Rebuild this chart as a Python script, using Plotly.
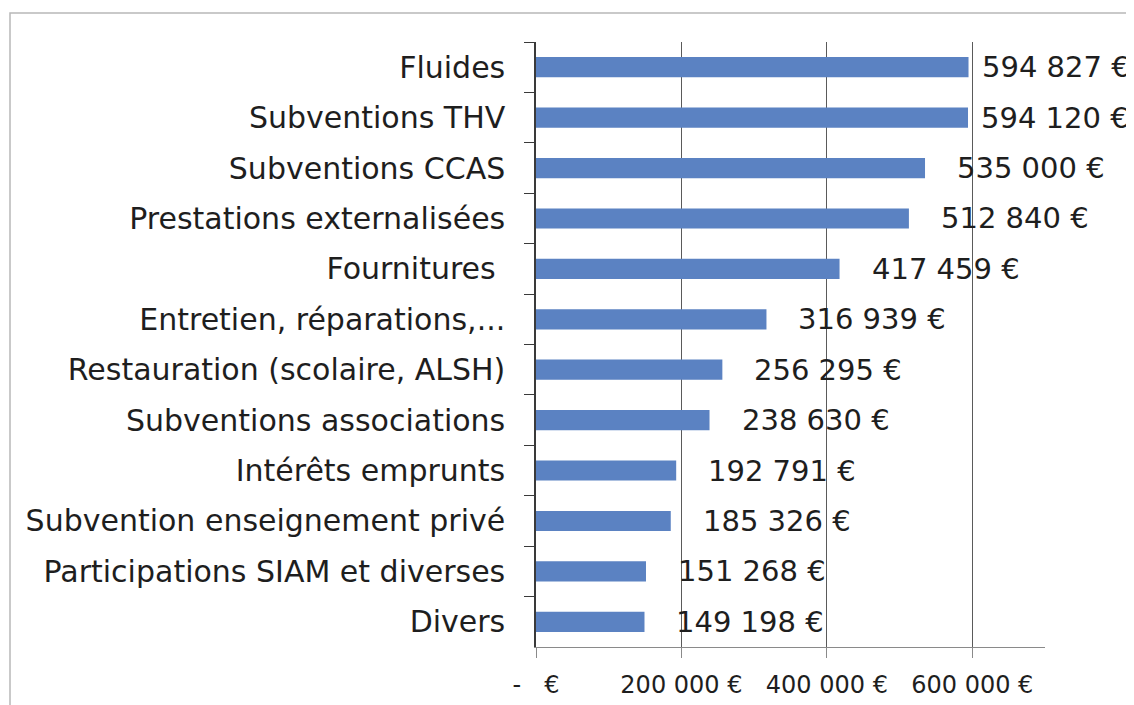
import plotly.graph_objects as go

categories = [
    "Fluides",
    "Subventions THV",
    "Subventions CCAS",
    "Prestations externalisées",
    "Fournitures\u00a0",
    "Entretien, réparations,...",
    "Restauration (scolaire, ALSH)",
    "Subventions associations",
    "Intérêts emprunts",
    "Subvention enseignement privé",
    "Participations SIAM et diverses",
    "Divers",
]
values = [594827, 594120, 535000, 512840, 417459, 316939, 256295, 238630, 192791, 185326, 151268, 149198]

tick_vals = [0, 200000, 400000, 600000]
tick_text = ["-\u00a0\u00a0\u00a0€", "200 000 €", "400 000 €", "600 000 €"]


def fmt(v):
    return f"{v:,}".replace(",", " ") + " €"


FONT = "DejaVu Sans"
# page has an 8px body margin; figure is sized/offset to compensate
W, H = 1126, 697
ML, MR, MT, MB = 528, 89, 34, 58

fig = go.Figure()
fig.add_trace(go.Bar(
    x=values,
    y=categories,
    orientation="h",
    width=0.4,
    marker=dict(color="#5b82c2", line=dict(width=0)),
    hoverinfo="x+y",
))

for c, v in zip(categories, values):
    fig.add_annotation(
        x=v, y=c, xref="x", yref="y",
        text=fmt(v), showarrow=False,
        xanchor="left", yanchor="middle",
        xshift=11 if v > 580000 else 30,
        font=dict(family=FONT, size=29, color="#1e1e1e"),
    )

# outer chart frame (light grey border)
pw = W - ML - MR
ph = H - MT - MB
fig.add_shape(
    type="rect", xref="paper", yref="paper",
    x0=(2 - ML) / pw, x1=(W + 30 - ML) / pw,
    y0=-(H + 30 - MT - ph) / ph, y1=(H - 5 - MB) / ph,
    line=dict(color="#b8b8b8", width=1.5), fillcolor="rgba(0,0,0,0)",
    layer="below",
)

fig.update_layout(
    width=W, height=H,
    margin=dict(l=ML, r=MR, t=MT, b=MB, autoexpand=False),
    paper_bgcolor="white",
    plot_bgcolor="white",
    showlegend=False,
    bargap=0.6,
    font=dict(family=FONT, color="#1e1e1e"),
)
fig.update_xaxes(
    range=[0, 700000],
    tickvals=tick_vals, ticktext=tick_text,
    showgrid=True, gridcolor="#5a5a5a", gridwidth=1.2,
    zeroline=False,
    showline=True, linecolor="#8a8a8a", linewidth=1.2,
    ticks="outside", ticklen=10, tickcolor="#8a8a8a",
    ticklabelstandoff=6,
    automargin=False,
    tickfont=dict(family=FONT, size=24, color="#1e1e1e"),
    fixedrange=True,
)
fig.update_yaxes(
    autorange="reversed",
    type="category",
    showgrid=False, zeroline=False,
    showline=True, linecolor="#3a3a3a", linewidth=1.5,
    ticks="outside", ticklen=10, tickcolor="#3a3a3a", tickson="boundaries",
    ticklabelstandoff=23,
    automargin=False,
    tickfont=dict(family=FONT, size=30, color="#1e1e1e"),
    fixedrange=True,
)

fig.write_html("out.html")
